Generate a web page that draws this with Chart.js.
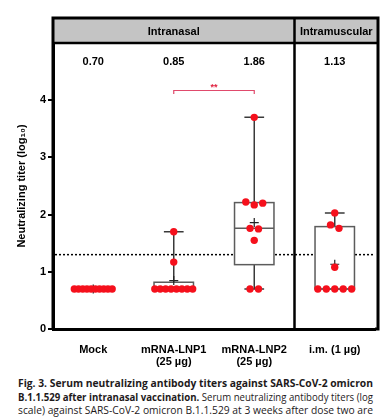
<!DOCTYPE html>
<html>
<head>
<meta charset="utf-8">
<script src="https://cdn.jsdelivr.net/npm/chart.js@4.4.0/dist/chart.umd.min.js"></script>
<style>
  body { margin: 0; background: #fff; width: 390px; height: 420px; overflow: hidden; position: relative; }
  #chart { position: absolute; left: 0; top: 0; }
  .caption { position: absolute; left: 18px; top: 376px; width: 355px; font-family: 'Open Sans', sans-serif; font-size: 11.4px; line-height: 13.7px; color: #1e1a1b; }
  .caption div { white-space: nowrap; height: 13.7px; }
  .caption span.l { display: inline-block; transform-origin: 0 0; }
</style>
</head>
<body>
<canvas id="chart" width="390" height="370"></canvas>
<div class="caption">
  <div><span class="l"><b>Fig. 3. Serum neutralizing antibody titers against SARS-CoV-2 omicron</b></span></div>
  <div><span class="l"><b>B.1.1.529 after intranasal vaccination.</b> Serum neutralizing antibody titers (log</span></div>
  <div><span class="l">scale) against SARS-CoV-2 omicron B.1.1.529 at 3 weeks after dose two are</span></div>
</div>
<script>
// data (log10 titers)
const groups = ['Mock', 'mRNA-LNP1', 'mRNA-LNP2', 'i.m.'];
const tickLabels = [['Mock'], ['mRNA-LNP1', '(25 µg)'], ['mRNA-LNP2', '(25 µg)'], ['i.m. (1 µg)']];
const mockTiters = [0.70, 0.70, 0.70, 0.70, 0.70, 0.70, 0.70, 0.70, 0.70, 0.70];
const lnp1Titers = [1.70, 1.17, 0.70, 0.70, 0.70, 0.70, 0.70, 0.70, 0.70, 0.70];
const lnp2Titers = [3.70, 2.22, 2.17, 2.20, 1.76, 1.75, 1.55, 0.70, 0.70];
const imTiters = [2.03, 1.82, 1.76, 1.08, 0.70, 0.70, 0.70, 0.70, 0.70];
const meanLabels = ['0.70', '0.85', '1.86', '1.13'];
const routeLabels = ['Intranasal', 'Intramuscular'];
const yTicks = [0, 1, 2, 3, 4];
const detectionLimit = 1.3;
const sigLevel = 4.17;

const series = [mockTiters, lnp1Titers, lnp2Titers, imTiters];
const FONT = 'Liberation Sans, Arial, sans-serif';

// percentile, n+1 method (as in Prism)
function pct(sorted, p) {
    const n = sorted.length;
    const pos = p * (n + 1);
    if (pos <= 1) return sorted[0];
    if (pos >= n) return sorted[n - 1];
    const i = Math.floor(pos);
    return sorted[i - 1] + (pos - i) * (sorted[i] - sorted[i - 1]);
}

// spread equal-ish values side by side
function swarm(values, center) {
    const rows = [];
    values.forEach(v => {
        let row = rows.find(r => Math.abs(r.v - v) < 0.12);
        if (!row) { row = { v: v, items: [] }; rows.push(row); }
        row.items.push(v);
    });
    const pts = [];
    rows.forEach(r => {
        const n = r.items.length;
        const step = n > 1 ? Math.min(0.105, 0.47 / (n - 1)) : 0;
        r.items.forEach((v, i) => pts.push({ x: center + (i - (n - 1) / 2) * step, y: v }));
    });
    return pts;
}

const points = [];
series.forEach((vals, i) => points.push(...swarm(vals, i + 1)));

const boxPlugin = {
    id: 'boxes',
    beforeDatasetsDraw(chart) {
        const ctx = chart.ctx;
        const xs = chart.scales.x, ys = chart.scales.y;
        const area = chart.chartArea;
        ctx.save();
        // limit of detection
        ctx.setLineDash([2, 2]);
        ctx.strokeStyle = '#000';
        ctx.lineWidth = 1.5;
        ctx.beginPath();
        ctx.moveTo(area.left + 2, ys.getPixelForValue(detectionLimit));
        ctx.lineTo(area.right - 2, ys.getPixelForValue(detectionLimit));
        ctx.stroke();
        ctx.setLineDash([]);

        series.forEach((vals, i) => {
            const s = vals.slice().sort((a, b) => a - b);
            const q1 = pct(s, 0.25), med = pct(s, 0.5), q3 = pct(s, 0.75);
            const mean = s.reduce((a, b) => a + b, 0) / s.length;
            const cx = xs.getPixelForValue(i + 1);
            const half = xs.getPixelForValue(i + 1.245) - cx;
            const y = v => ys.getPixelForValue(v);

            ctx.strokeStyle = '#3a3a3a';
            ctx.lineWidth = 1.5;
            ctx.beginPath();
            ctx.moveTo(cx, y(q3)); ctx.lineTo(cx, y(s[s.length - 1]));
            ctx.moveTo(cx, y(q1)); ctx.lineTo(cx, y(s[0]));
            ctx.moveTo(cx - half / 2, y(s[s.length - 1])); ctx.lineTo(cx + half / 2, y(s[s.length - 1]));
            ctx.moveTo(cx - half / 2, y(s[0])); ctx.lineTo(cx + half / 2, y(s[0]));
            ctx.stroke();

            ctx.fillStyle = '#fff';
            ctx.fillRect(cx - half, y(q3), half * 2, y(q1) - y(q3));
            ctx.strokeStyle = '#5c5c5c';
            ctx.strokeRect(cx - half, y(q3), half * 2, y(q1) - y(q3));
            ctx.beginPath();
            ctx.moveTo(cx - half, y(med)); ctx.lineTo(cx + half, y(med));
            ctx.stroke();

            // mean +
            ctx.strokeStyle = '#222';
            ctx.lineWidth = 1.2;
            ctx.beginPath();
            ctx.moveTo(cx - 4.5, y(mean)); ctx.lineTo(cx + 4.5, y(mean));
            ctx.moveTo(cx, y(mean) - 4.5); ctx.lineTo(cx, y(mean) + 4.5);
            ctx.stroke();
        });
        ctx.restore();
    },
    afterDraw(chart) {
        const ctx = chart.ctx;
        const xs = chart.scales.x, ys = chart.scales.y;
        const area = chart.chartArea;
        const top = 18, headBottom = area.top;
        const left = area.left, right = area.right + 3;
        const split = xs.getPixelForValue(3.5);
        ctx.save();
        // header band
        ctx.fillStyle = '#c4c4c4';
        ctx.fillRect(left, top, right - left, headBottom - top);
        ctx.strokeStyle = '#000';
        ctx.lineWidth = 3;
        ctx.beginPath();
        ctx.moveTo(left - 1.5, top); ctx.lineTo(right + 1.5, top);
        ctx.moveTo(left, top); ctx.lineTo(left, area.bottom);
        ctx.moveTo(right, top); ctx.lineTo(right, area.bottom + 1.5);
        ctx.moveTo(area.right, area.bottom); ctx.lineTo(right, area.bottom);
        ctx.stroke();
        ctx.lineWidth = 2.5;
        ctx.beginPath();
        ctx.moveTo(left, headBottom); ctx.lineTo(right, headBottom);
        ctx.moveTo(split, top); ctx.lineTo(split, area.bottom);
        ctx.stroke();

        ctx.fillStyle = '#000';
        ctx.font = 'bold 11px ' + FONT;
        ctx.textAlign = 'center';
        ctx.textBaseline = 'middle';
        ctx.fillText(routeLabels[0], (left + split) / 2, (top + headBottom) / 2 + 1);
        ctx.fillText(routeLabels[1], (split + right) / 2, (top + headBottom) / 2 + 1);

        // group means
        meanLabels.forEach((t, i) => ctx.fillText(t, xs.getPixelForValue(i + 1), area.top + 19));

        // significance bracket
        const x1 = xs.getPixelForValue(2), x2 = xs.getPixelForValue(3), yb = ys.getPixelForValue(sigLevel);
        ctx.strokeStyle = '#e04a6c';
        ctx.lineWidth = 1.2;
        ctx.beginPath();
        ctx.moveTo(x1, yb + 3.5); ctx.lineTo(x1, yb); ctx.lineTo(x2, yb); ctx.lineTo(x2, yb + 3.5);
        ctx.stroke();
        ctx.fillStyle = '#e0213f';
        ctx.font = 'bold 9px ' + FONT;
        ctx.textBaseline = 'alphabetic';
        ctx.fillText('**', (x1 + x2) / 2, yb - 0.5);
        ctx.restore();
    }
};

new Chart(document.getElementById('chart').getContext('2d'), {
    type: 'scatter',
    data: {
        datasets: [{
            data: points,
            backgroundColor: '#f5101c',
            borderWidth: 0,
            pointRadius: 3.7,
            pointHoverRadius: 3.7
        }]
    },
    options: {
        responsive: false,
        animation: false,
        events: [],
        layout: { padding: { top: 43, right: 15, left: 0, bottom: 0 } },
        plugins: { legend: { display: false }, tooltip: { enabled: false } },
        scales: {
            x: {
                type: 'linear',
                min: 0.5,
                max: 4.5,
                afterBuildTicks: s => { s.ticks = groups.map((g, i) => ({ value: i + 1 })); },
                afterFit: s => { s.height = 41; },
                ticks: {
                    callback: v => tickLabels[v - 1],
                    font: { family: FONT, size: 11, weight: 'bold', lineHeight: 1.1 },
                    color: '#000',
                    padding: 7,
                    maxRotation: 0,
                    autoSkip: false
                },
                grid: { display: false },
                border: { display: true, color: '#000', width: 3 }
            },
            y: {
                min: 0,
                max: 5,
                afterBuildTicks: s => { s.ticks = yTicks.map(v => ({ value: v })); },
                afterFit: s => { s.width = 53; },
                ticks: {
                    font: { family: FONT, size: 11, weight: 'bold' },
                    color: '#000',
                    padding: 2
                },
                grid: { drawOnChartArea: false, drawTicks: true, tickLength: 5, color: '#000', lineWidth: 2 },
                border: { display: true, color: '#000', width: 3 },
                title: {
                    display: true,
                    text: 'Neutralizing titer (log₁₀)',
                    font: { family: FONT, size: 11, weight: 'bold' },
                    color: '#000',
                    padding: { top: 15, bottom: 0 }
                }
            }
        }
    },
    plugins: [boxPlugin]
});

// justify caption lines to the column width
function fitCaption() {
    const target = 355;
    document.querySelectorAll('.caption span.l').forEach(sp => {
        sp.style.transform = '';
        sp.style.wordSpacing = '';
        const w = sp.getBoundingClientRect().width;
        if (w > target) {
            sp.style.transform = 'scaleX(' + (target / w) + ')';
        } else {
            const gaps = (sp.textContent.match(/ /g) || []).length;
            if (gaps) sp.style.wordSpacing = ((target - w) / gaps) + 'px';
        }
    });
}
fitCaption();
if (document.fonts) document.fonts.ready.then(fitCaption);
</script>
</body>
</html>
